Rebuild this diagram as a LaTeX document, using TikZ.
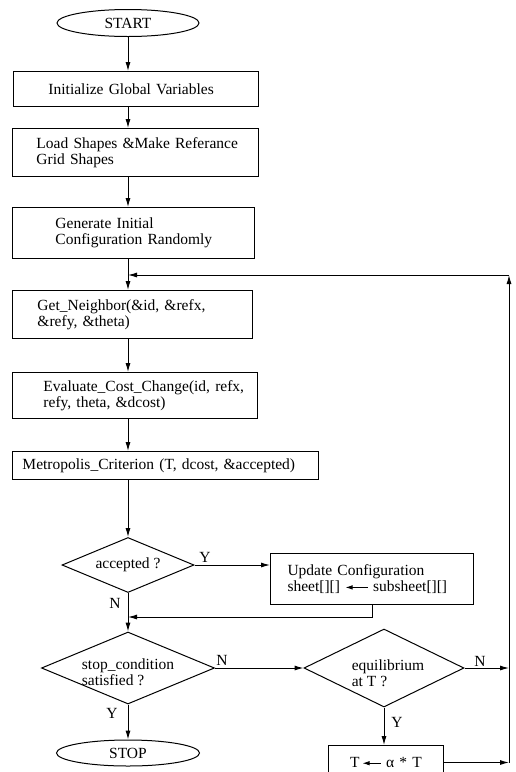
\documentclass[tikz,border=0pt]{standalone}
\usepackage{fontspec}
\setmainfont{Liberation Serif}
\usetikzlibrary{shapes.geometric,arrows.meta}
\begin{document}
\begin{tikzpicture}[x=1pt,y=-1pt,
  every node/.style={font=\fontsize{15.5}{16.5}\selectfont},
  box/.style={draw, line width=1pt, anchor=north west, inner xsep=0pt, inner ysep=0pt, align=left},
  dia/.style={draw, diamond, line width=1pt, inner sep=0pt},
  term/.style={draw, ellipse, line width=1pt, inner sep=0pt},
  arr/.style={line width=1pt, -{Latex[length=9pt,width=5pt]}},
  ln/.style={line width=1pt},
  lab/.style={inner sep=1pt},
  dtext/.style={align=left}]
\useasboundingbox (0,0) rectangle (515,772);
\clip (0,0) rectangle (515,772);

% nodes
\node[term, minimum width=142, minimum height=27] (start) at (128,23) {START};
\node[box, text width=245, minimum height=35] (b1) at (13,71)
  {\hspace*{35pt}Initialize Global Variables};
\node[box, text width=246, minimum height=48] (b2) at (12,128)
  {\hspace*{24pt}Load Shapes \&Make Referance\\\hspace*{24pt}Grid Shapes};
\node[box, text width=242, minimum height=51] (b3) at (12,207)
  {\hspace*{43pt}Generate Initial\\\hspace*{43pt}Configuration Randomly};
\node[box, text width=240, minimum height=48] (b4) at (12,290)
  {\hspace*{25pt}Get\_Neighbor(\&id, \&refx,\\\hspace*{25pt}\&refy, \&theta)};
\node[box, text width=245, minimum height=46] (b5) at (12,372)
  {\hspace*{31pt}Evaluate\_Cost\_Change(id, refx,\\\hspace*{31pt}refy, theta, \&dcost)};
\node[box, text width=306, minimum height=28] (b6) at (12,451)
  {\hspace*{10pt}Metropolis\_Criterion (T, dcost, \&accepted)};
\node[dia, minimum width=132, minimum height=55,
  label={[dtext]center:accepted ?}] (acc) at (128,565) {};
\node[box, text width=203, minimum height=51] (upd) at (270,553)
  {\hspace*{17pt}Update Configuration\\\hspace*{17pt}sheet[][]
   \tikz[baseline=-0.6ex]\draw[line width=0.8pt,-{Latex[length=7pt,width=4.5pt]}] (22pt,0pt)--(0pt,0pt);
   subsheet[][]};
\node[dia, minimum width=173, minimum height=72,
  label={[dtext, yshift=-4pt]center:stop\_condition\\satisfied ?}] (stp) at (128,668) {};
\node[dia, minimum width=160, minimum height=78,
  label={[dtext, yshift=-5pt, xshift=4pt]center:equilibrium\\at T ?}] (eq) at (384,668) {};
\node[box, text width=115, minimum height=34, align=center] (tb) at (328,745)
  {T\,\tikz[baseline=-0.6ex]\draw[line width=0.8pt,-{Latex[length=7pt,width=4.5pt]}] (18pt,0pt)--(0pt,0pt);\ α * T};
\node[term, minimum width=143, minimum height=26] (stop) at (128,753) {STOP};

\coordinate (fbc) at (509,275);
\coordinate (fbj) at (128,275);
\coordinate (mj) at (128,617);

% connectors
\draw[arr] (start.south) -- (start.south |- b1.north);
\draw[arr] (start.south |- b1.south) -- (start.south |- b2.north);
\draw[arr] (start.south |- b2.south) -- (start.south |- b3.north);
\draw[arr] (start.south |- b3.south) -- (start.south |- b4.north);
\draw[arr] (start.south |- b4.south) -- (start.south |- b5.north);
\draw[arr] (start.south |- b5.south) -- (start.south |- b6.north);
\draw[arr] (start.south |- b6.south) -- (acc.north);
\draw[arr] (acc.east) -- (acc.east -| upd.west);
\draw[arr] (upd.south) |- (mj);
\draw[arr] (acc.south) -- (stp.north);
\draw[arr] (stp.east) -- (eq.west);
\draw[arr] (stp.south) -- (stop.north);
\draw[arr] (eq.east) -- (eq.east -| fbc);
\draw[arr] (eq.south) -- (eq.south |- tb.north);
\draw[arr] (tb.east) -- (tb.east -| fbc);
\draw[arr] (tb.east -| fbc) -- (fbc);
\draw[arr] (fbc) -- (fbj);

% branch labels
\node[lab] (ly1) at (205,557) {Y};
\node[lab] (ln1) at (115,603) {N};
\node[lab] (ln2) at (222,660) {N};
\node[lab] (ly2) at (112,713) {Y};
\node[lab] (ln3) at (480,661) {N};
\node[lab] (ly3) at (397,722) {Y};
\end{tikzpicture}
\end{document}
